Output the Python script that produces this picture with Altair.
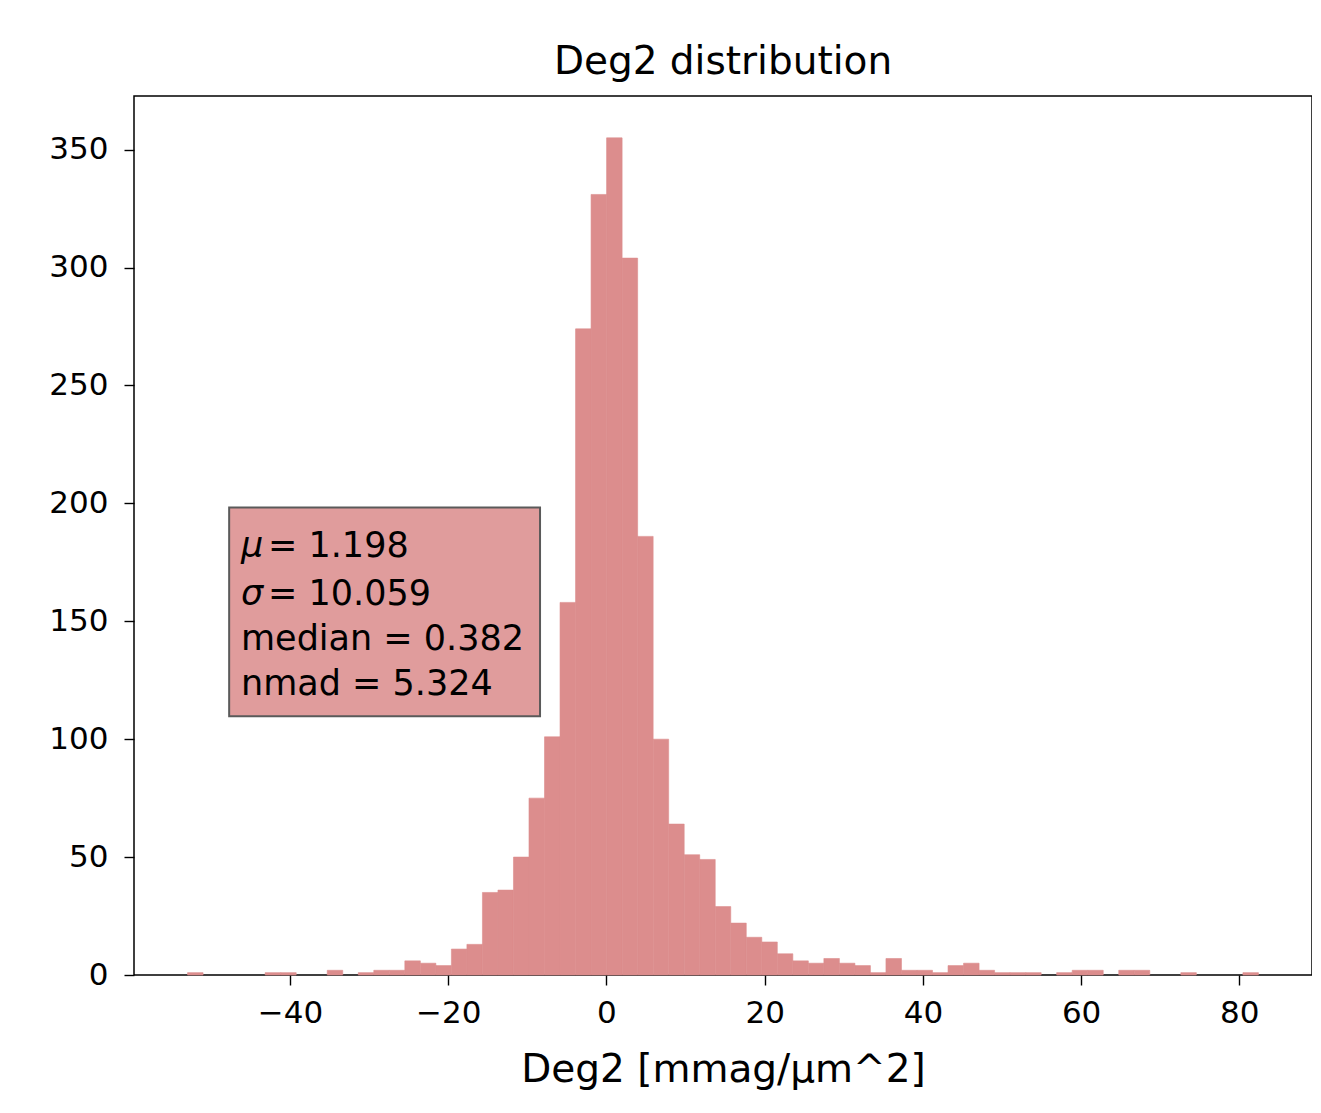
import altair as alt
import pandas as pd

# ---- data ----
BIN_START = -52.96
BIN_WIDTH = 1.962
COUNTS = [1, 0, 0, 0, 0, 1, 1, 0, 0, 2,
          0, 1, 2, 2, 6, 5, 4, 11, 13, 35,
          36, 50, 75, 101, 158, 274, 331, 355, 304, 186,
          100, 64, 51, 49, 29, 22, 16, 14, 9, 6,
          5, 7, 5, 4, 1, 7, 2, 2, 1, 4,
          5, 2, 1, 1, 1, 0, 1, 2, 2, 0,
          2, 2, 0, 0, 1, 0, 0, 0, 1]

X_DOMAIN = [-59.73, 89.19]
Y_DOMAIN = [0, 372.75]
X_TICKS = [-40, -20, 0, 20, 40, 60, 80]
Y_TICKS = [0, 50, 100, 150, 200, 250, 300, 350]

TITLE = "Deg2 distribution"
X_LABEL = "Deg2 [mmag/μm^2]"

# stats box (data coordinates)
BOX_X = [-47.7, -8.4]
BOX_Y = [109.7, 198.3]
TEXT_X = -46.2
SYM_LINES = ["μ", "σ"]
SYM_VALUES = ["= 1.198", "= 10.059"]
SYM_Y = [177.2, 156.8]
PLAIN_LINES = ["median = 0.382", "nmad = 5.324"]
PLAIN_Y = [137.7, 118.6]

BAR_COLOR = "#DC8D8D"
BOX_COLOR = "#E09C9C"
FONT = "DejaVu Sans"

# ---- tables ----
bins = pd.DataFrame({
    "lo": [BIN_START + i * BIN_WIDTH for i in range(len(COUNTS))],
    "count": COUNTS,
})
bins["hi"] = bins["lo"] + BIN_WIDTH

box_df = pd.DataFrame({"x0": [BOX_X[0]], "x1": [BOX_X[1]], "y0": [BOX_Y[0]], "y1": [BOX_Y[1]]})
sym_df = pd.DataFrame({"x": [TEXT_X] * 2, "y": SYM_Y, "sym": SYM_LINES, "val": SYM_VALUES})
plain_df = pd.DataFrame({"x": [TEXT_X] * 2, "y": PLAIN_Y, "txt": PLAIN_LINES})

xscale = alt.Scale(domain=X_DOMAIN, nice=False, zero=False)
yscale = alt.Scale(domain=Y_DOMAIN, nice=False, zero=False)

xaxis = alt.Axis(values=X_TICKS, title=X_LABEL, grid=False, domain=False,
                 tickSize=10, tickWidth=1.4, tickColor="black",
                 labelFontSize=31, labelFont=FONT, labelColor="black", labelPadding=13,
                 titleFontSize=39, titleFont=FONT, titleFontWeight="normal",
                 titleColor="black", titlePadding=22)
yaxis = alt.Axis(values=Y_TICKS, title=None, grid=False, domain=False,
                 tickSize=10, tickWidth=1.4, tickColor="black",
                 labelFontSize=31, labelFont=FONT, labelColor="black", labelPadding=16)

bars = alt.Chart(bins).transform_filter(alt.datum.count > 0).mark_bar(
    color=BAR_COLOR, opacity=1, stroke=BAR_COLOR, strokeWidth=0.6).encode(
    x=alt.X("lo:Q", scale=xscale, axis=xaxis),
    x2="hi:Q",
    y=alt.Y("count:Q", scale=yscale, axis=yaxis),
    y2=alt.datum(0),
)

box = alt.Chart(box_df).mark_rect(fill=BOX_COLOR, stroke="#5a5a5a", strokeWidth=2).encode(
    x=alt.X("x0:Q", scale=xscale), x2="x1:Q",
    y=alt.Y("y0:Q", scale=yscale), y2="y1:Q",
)

sym_text = alt.Chart(sym_df).mark_text(align="left", baseline="alphabetic", font=FONT,
                                       fontSize=35, fontStyle="italic", color="black").encode(
    x=alt.X("x:Q", scale=xscale), y=alt.Y("y:Q", scale=yscale), text="sym:N")
val_text = alt.Chart(sym_df).mark_text(align="left", baseline="alphabetic", font=FONT,
                                       fontSize=35, dx=27, color="black").encode(
    x=alt.X("x:Q", scale=xscale), y=alt.Y("y:Q", scale=yscale), text="val:N")
plain_text = alt.Chart(plain_df).mark_text(align="left", baseline="alphabetic", font=FONT,
                                           fontSize=35, color="black").encode(
    x=alt.X("x:Q", scale=xscale), y=alt.Y("y:Q", scale=yscale), text="txt:N")

chart = alt.layer(bars, box, sym_text, val_text, plain_text).properties(
    width=1178, height=879,
    title=alt.TitleParams(TITLE, fontSize=39, font=FONT, fontWeight="normal",
                          color="black", anchor="middle", baseline="bottom", offset=9, dy=34),
    autosize=alt.AutoSizeParams(type="none"),
    padding={"left": 126, "top": 88, "right": 0, "bottom": 124},
).configure(background="white").configure_view(stroke="black", strokeWidth=1.5)

chart.save("out.html", embed_options={"renderer": "svg", "actions": False})
